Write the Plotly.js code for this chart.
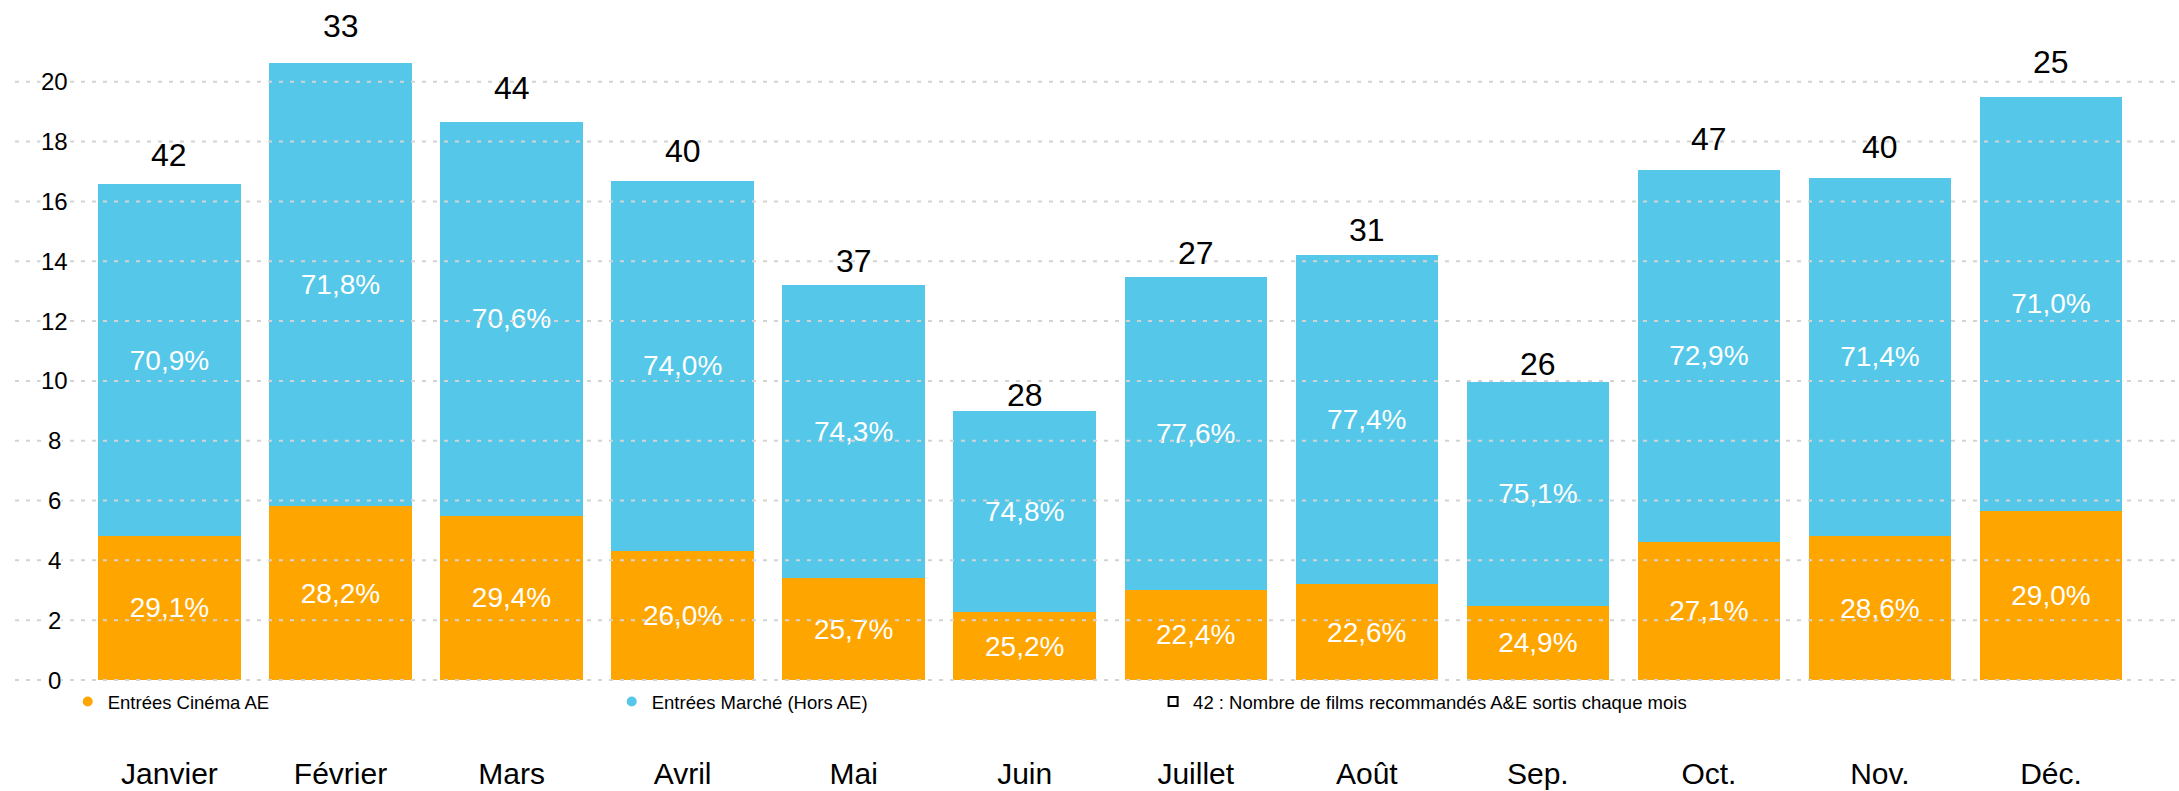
<!DOCTYPE html>
<html><head><meta charset="utf-8">
<script src="https://cdn.plot.ly/plotly-3.0.1.min.js"></script>
<style>html,body{margin:0;padding:0;background:#fff}#chart{width:2179px;height:791px}</style>
</head><body><div id="chart"></div>
<script>
const months = ["Janvier","Février","Mars","Avril","Mai","Juin","Juillet","Août","Sep.","Oct.","Nov.","Déc."];
const cinemaAE = [4.82,5.81,5.49,4.33,3.40,2.27,3.02,3.21,2.48,4.62,4.80,5.66];
const marcheHorsAE = [11.75,14.81,13.18,12.34,9.82,6.73,10.44,10.99,7.49,12.43,12.00,13.84];
const cinemaPct = ["29,1%","28,2%","29,4%","26,0%","25,7%","25,2%","22,4%","22,6%","24,9%","27,1%","28,6%","29,0%"];
const marchePct = ["70,9%","71,8%","70,6%","74,0%","74,3%","74,8%","77,6%","77,4%","75,1%","72,9%","71,4%","71,0%"];
const nbFilms = [42,33,44,40,37,28,27,31,26,47,40,25];
const yTicks = [0,2,4,6,8,10,12,14,16,18,20];
const yTickLabels = ["0","2","4","6","8","10","12","14","16","18","20"];
const seriesNames = ["Entrées Cinéma AE","Entrées Marché (Hors AE)","42 : Nombre de films recommandés A&E sortis chaque mois"];

const FONT = "Liberation Sans, Arial, sans-serif";
const ORANGE = "#FFA500";
const BLUE = "#55C7E8";

const barCommon = {
  type: "bar", x: months, width: 0.833, textposition: "inside", insidetextanchor: "middle",
  textangle: 0, constraintext: "none",
  textfont: {family: FONT, size: 28, color: "#ffffff"}, showlegend: false, hoverinfo: "skip"
};
const traces = [
  Object.assign({}, barCommon, {y: cinemaAE, text: cinemaPct, marker: {color: ORANGE}, name: seriesNames[0]}),
  Object.assign({}, barCommon, {y: marcheHorsAE, text: marchePct, marker: {color: BLUE}, name: seriesNames[1]}),
  {type: "scatter", mode: "markers", x: [null], y: [null], name: seriesNames[0], legend: "legend",
   marker: {color: ORANGE, size: 10, symbol: "circle"}},
  {type: "scatter", mode: "markers", x: [null], y: [null], name: seriesNames[1], legend: "legend",
   marker: {color: BLUE, size: 10, symbol: "circle"}},
  {type: "scatter", mode: "markers", x: [null], y: [null], name: seriesNames[2], legend: "legend2",
   marker: {color: "#000000", size: 9, symbol: "square-open", line: {width: 2, color: "#000000"}}}
];

const annotations = [];
months.forEach((m, i) => {
  annotations.push({
    x: m, y: (cinemaAE[i] + marcheHorsAE[i]) * 1.06, xref: "x", yref: "y",
    text: String(nbFilms[i]), showarrow: false, yanchor: "middle",
    font: {family: FONT, size: 32, color: "#000000"}
  });
});
yTicks.forEach((v, i) => {
  annotations.push({
    x: 0.0183, xref: "paper", y: v, yref: "y", xanchor: "center", yanchor: "middle",
    text: yTickLabels[i], showarrow: false, bgcolor: "#ffffff", borderpad: 0,
    font: {family: FONT, size: 24, color: "#000000"}
  });
});
const shapes = yTicks.map(v => ({
  type: "line", xref: "paper", x0: 0, x1: 1, yref: "y", y0: v, y1: v, layer: "above",
  line: {color: "#d3d3d3", width: 2, dash: "4px,7px"}
}));

const legendFont = {family: FONT, size: 18.5, color: "#000000"};
const layout = {
  width: 2179, height: 791,
  margin: {l: 15, r: 4, t: 7, b: 105},
  paper_bgcolor: "#ffffff", plot_bgcolor: "#ffffff",
  barmode: "stack",
  font: {family: FONT, color: "#000000"},
  xaxis: {type: "category", range: [-0.903, 11.725], showgrid: false, zeroline: false, showline: false,
    ticks: "", ticklabelstandoff: 67, tickfont: {family: FONT, size: 30, color: "#000000"}},
  yaxis: {range: [-0.2, 22.5], showgrid: false, zeroline: false, showline: false, showticklabels: false, ticks: ""},
  showlegend: true,
  legend: {orientation: "h", x: 0.0244, xanchor: "left", y: -0.0236, yanchor: "middle",
    font: legendFont, entrywidth: 499, entrywidthmode: "pixels",
    bgcolor: "rgba(0,0,0,0)", traceorder: "normal"},
  legend2: {orientation: "h", x: 0.5269, xanchor: "left", y: -0.0236, yanchor: "middle",
    font: legendFont, bgcolor: "rgba(0,0,0,0)"},
  annotations: annotations,
  shapes: shapes
};
Plotly.newPlot("chart", traces, layout, {displayModeBar: false, staticPlot: true});
</script>
</body></html>
